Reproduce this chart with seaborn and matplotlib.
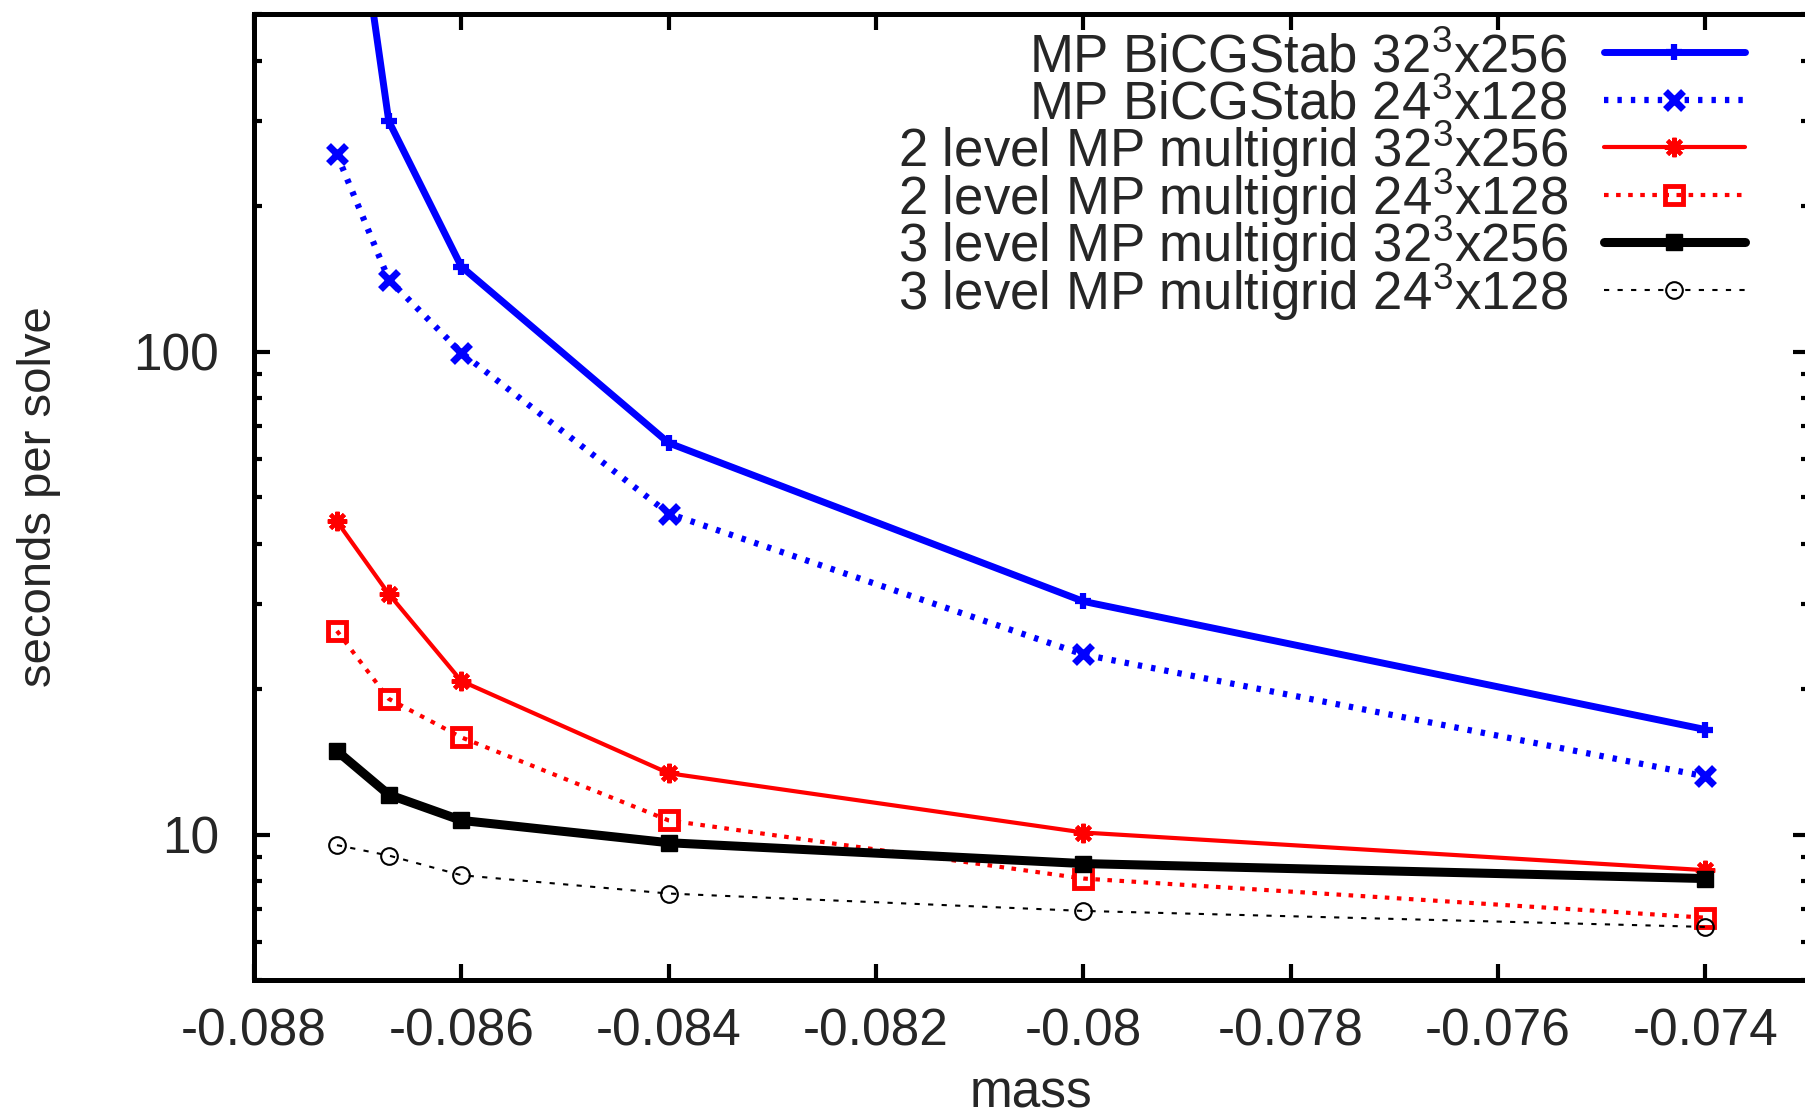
import matplotlib
matplotlib.use("Agg")
import matplotlib.pyplot as plt
import matplotlib.ticker as mticker
import numpy as np
import seaborn as sns

# data
mass = [-0.0872, -0.0867, -0.086, -0.084, -0.080, -0.074]
bicg_32 = [1700, 300, 150, 64.7, 30.4, 16.5]
bicg_24 = [256, 141, 99.5, 46.2, 23.6, 13.2]
mg2_32 = [44.5, 31.5, 20.8, 13.4, 10.1, 8.44]
mg2_24 = [26.4, 19.1, 15.9, 10.7, 8.11, 6.73]
mg3_32 = [14.9, 12.1, 10.7, 9.62, 8.71, 8.11]
mg3_24 = [9.51, 9.05, 8.24, 7.55, 6.95, 6.44]

labels = [
    "MP BiCGStab 32$^3$x256",
    "MP BiCGStab 24$^3$x128",
    "2 level MP multigrid 32$^3$x256",
    "2 level MP multigrid 24$^3$x128",
    "3 level MP multigrid 32$^3$x256",
    "3 level MP multigrid 24$^3$x128",
]

sns.set_style("ticks")
plt.rcParams["font.family"] = ["Liberation Sans", "DejaVu Sans"]
plt.rcParams["mathtext.fontset"] = "custom"
plt.rcParams["mathtext.rm"] = "Liberation Sans"
plt.rcParams["mathtext.it"] = "Liberation Sans"
plt.rcParams["axes.unicode_minus"] = False

fs = 37

# (values, color, lw, dashes, marker, markersize, mew, fill)
styles = [
    (bicg_32, "#0000ff", 5.0, None, "+", 12, 4.5, "full"),
    (bicg_24, "#0000ff", 4.5, (0.7, 1.45), "x", 13, 5.0, "full"),
    (mg2_32, "#ff0000", 3.0, None, (8, 2, 0), 14, 3.0, "full"),
    (mg2_24, "#ff0000", 3.0, (1.1, 1.8), "s", 13, 3.5, "none"),
    (mg3_32, "#000000", 6.5, None, "s", 11, 1.0, "full"),
    (mg3_24, "#000000", 1.5, (2.5, 4.0), "o", 12, 1.5, "none"),
]

fig = plt.figure(figsize=(18.06, 11.18), dpi=100)
ax = fig.add_axes([254 / 1806, 1 - 980 / 1118, (1809 - 254) / 1806, (980 - 14) / 1118])

for (vals, color, lw, dashes, marker, ms, mew, fill), lab in zip(styles, labels):
    sns.lineplot(x=mass, y=vals, ax=ax, color=color, linewidth=lw, marker=marker,
                 markersize=ms, markeredgewidth=mew, markeredgecolor=color,
                 fillstyle=fill, label=lab, sort=False, legend=False)
    line = ax.lines[-1]
    if dashes is not None:
        line.set_dashes(dashes)
    line.set_dash_capstyle("butt")

ax.set_yscale("log")
ax.set_xlim(-0.088, -0.073)
ax.set_ylim(5, 500)
ax.set_xticks([-0.088, -0.086, -0.084, -0.082, -0.080, -0.078, -0.076, -0.074])
ax.xaxis.set_major_formatter(mticker.FuncFormatter(lambda v, p: f"{v:g}"))
ax.yaxis.set_major_locator(mticker.LogLocator(base=10))
ax.yaxis.set_minor_locator(mticker.LogLocator(base=10, subs=range(2, 10)))
ax.yaxis.set_major_formatter(mticker.FuncFormatter(lambda v, p: f"{v:g}"))
ax.yaxis.set_minor_formatter(mticker.NullFormatter())
ax.xaxis.set_minor_locator(mticker.NullLocator())

for sp in ax.spines.values():
    sp.set_linewidth(3.6)
    sp.set_color("black")
ax.tick_params(which="both", direction="in", top=True, right=True, color="black", width=3.0)
ax.tick_params(which="major", length=11.5, labelsize=fs)
ax.tick_params(which="minor", length=6)
ax.tick_params(axis="x", which="major", pad=20)
ax.tick_params(axis="y", which="major", pad=25)

ax.set_xlabel("mass", fontsize=fs, labelpad=9)
ax.set_ylabel("seconds per solve", fontsize=34, labelpad=52)

# legend: samples from matplotlib, labels right-aligned to the left of them (gnuplot style)
handles, _ = ax.get_legend_handles_labels()
leg = ax.legend(handles, [""] * len(handles), loc="upper right", bbox_to_anchor=(0.9588, 0.981),
                frameon=False, fontsize=fs, numpoints=1, handlelength=2.75,
                handletextpad=0, labelspacing=-0.03, borderpad=0, borderaxespad=0)

fig.canvas.draw()
to_axes = ax.transAxes.inverted()
for hl, lab in zip(leg.get_lines(), labels):
    pts = hl.get_transform().transform(np.column_stack([hl.get_xdata(), hl.get_ydata()]))
    x_left = pts[:, 0].min()
    y_mid = pts[:, 1].mean()
    tx, ty = to_axes.transform((x_left - 36, y_mid - 20))
    ax.text(tx, ty, lab, transform=ax.transAxes, ha="right", va="baseline", fontsize=38)

fig.savefig("out.png", dpi=100)
